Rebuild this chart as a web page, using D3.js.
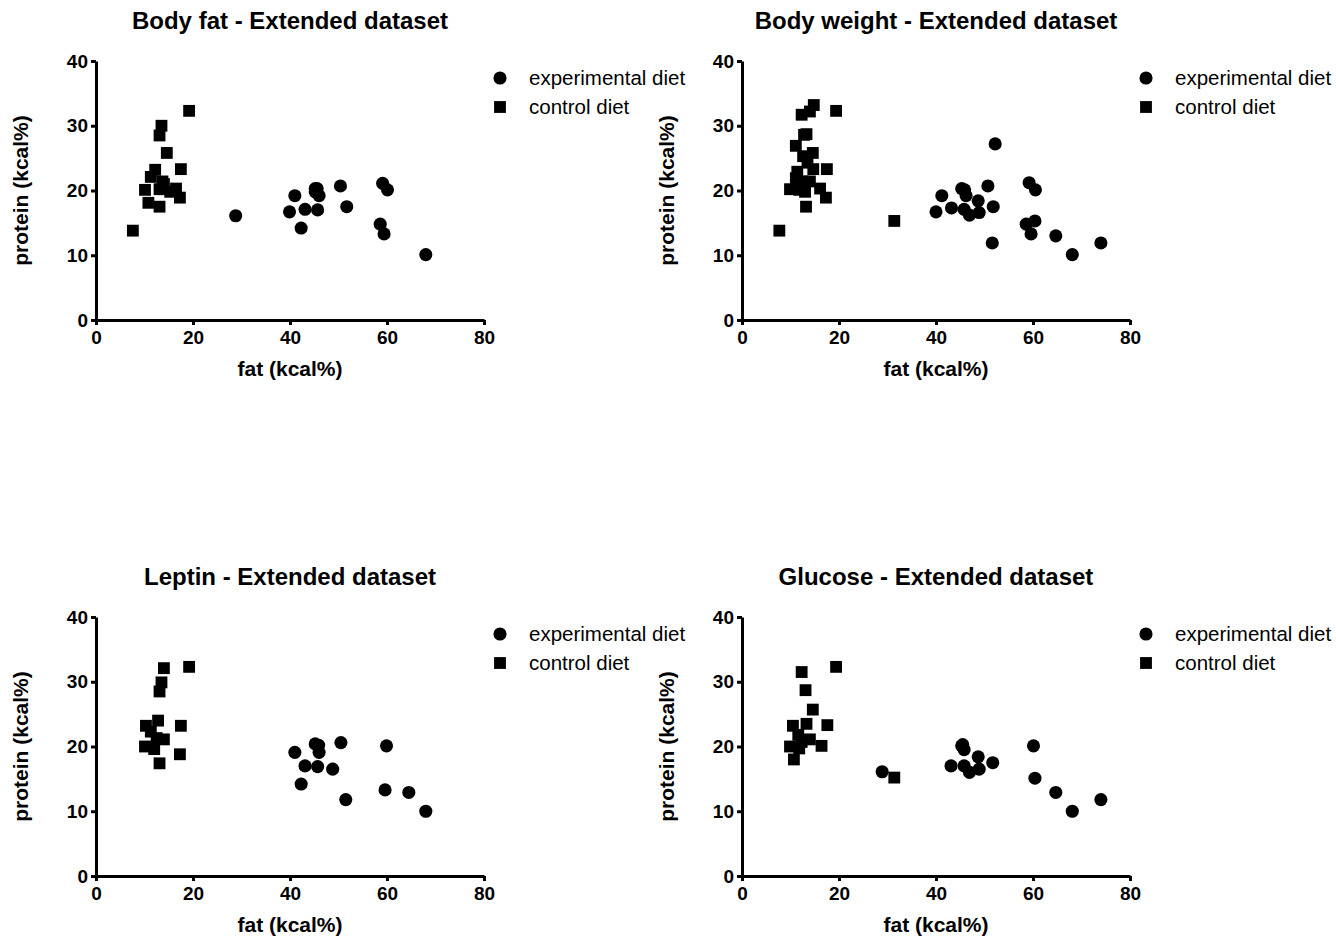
<!DOCTYPE html>
<html lang="en">
<head>
<meta charset="UTF-8">
<title>Extended dataset</title>
<script src="https://d3js.org/d3.v7.min.js"></script>
<style>
  body { margin: 0; background: #fff; }
  svg { font-family: Arial, "Liberation Sans", sans-serif; }
</style>
</head>
<body>
<div id="chart"></div>
<script>
// Panel titles
var titles = ["Body fat - Extended dataset", "Body weight - Extended dataset",
              "Leptin - Extended dataset", "Glucose - Extended dataset"];

// Axis ticks
var xTicks = [0, 20, 40, 60, 80];
var yTicks = [0, 10, 20, 30, 40];

// Series names
var seriesNames = ["experimental diet", "control diet"];

// [fat, protein] points
var bodyFatExp = [[28.8,16.1],[39.9,16.7],[41.0,19.2],[43.1,17.1],[42.3,14.2],[45.2,20.3],[45.6,20.3],
  [45.2,19.8],[46.0,19.2],[45.7,17.0],[50.4,20.7],[51.7,17.5],[59.1,21.1],[60.1,20.1],[58.6,14.8],
  [59.4,13.3],[68.0,10.1]];
var bodyFatCtrl = [[7.6,13.8],[19.2,32.3],[13.5,30.0],[13.1,28.5],[14.6,25.8],[17.5,23.3],[12.2,23.2],
  [11.3,22.1],[13.7,21.4],[10.1,20.1],[13.1,20.2],[15.3,19.8],[16.5,20.3],[17.3,18.9],[10.8,18.1],
  [13.1,17.5],[14.0,21.0]];

var bodyWeightExp = [[52.2,27.2],[40.0,16.7],[41.2,19.2],[43.2,17.3],[45.3,20.3],[45.9,20.1],[46.2,19.2],
  [45.8,17.1],[46.9,16.2],[48.7,18.4],[48.9,16.6],[50.7,20.7],[51.8,17.5],[51.6,11.9],[59.2,21.2],
  [60.5,20.1],[58.6,14.8],[60.4,15.3],[59.6,13.3],[64.7,13.0],[68.1,10.1],[74.0,11.9]];
var bodyWeightCtrl = [[19.4,32.3],[14.8,33.2],[14.0,32.2],[12.3,31.7],[13.3,28.7],[12.8,28.6],[11.1,26.9],
  [14.6,25.8],[12.6,25.3],[13.5,24.3],[11.4,22.9],[14.7,23.3],[17.5,23.3],[11.1,21.9],[12.6,21.4],
  [14.0,21.4],[9.9,20.2],[11.8,20.1],[16.1,20.3],[13.0,19.8],[17.3,18.9],[13.2,17.5],[7.7,13.8],
  [31.4,15.3]];

var leptinExp = [[41.0,19.1],[45.2,20.4],[45.9,20.2],[46.0,19.1],[50.5,20.6],[43.1,17.0],[45.7,16.9],
  [48.8,16.5],[42.3,14.2],[51.5,11.8],[59.9,20.1],[59.6,13.3],[64.5,12.9],[68.0,10.0]];
var leptinCtrl = [[19.2,32.3],[14.0,32.1],[13.5,29.9],[13.1,28.5],[12.8,24.0],[17.5,23.2],[10.3,23.2],
  [11.3,22.3],[14.0,21.1],[12.5,21.3],[10.1,20.0],[12.0,19.6],[17.3,18.8],[13.1,17.4]];

var glucoseExp = [[28.9,16.1],[43.1,17.0],[45.3,20.1],[45.5,20.3],[45.8,19.5],[45.8,17.0],[46.9,16.0],
  [48.7,18.4],[48.9,16.5],[51.7,17.5],[60.1,20.1],[60.4,15.1],[64.7,12.9],[68.1,10.0],[74.0,11.8]];
var glucoseCtrl = [[19.4,32.3],[12.3,31.5],[13.1,28.7],[14.6,25.7],[17.6,23.3],[10.5,23.2],[13.3,23.5],
  [11.6,21.8],[14.0,21.1],[12.3,20.7],[9.9,20.0],[11.8,19.7],[16.4,20.1],[10.7,18.0],[31.4,15.2]];

var panels = [
  { title: titles[0], exp: bodyFatExp, ctrl: bodyFatCtrl, dx: 0, dy: 0 },
  { title: titles[1], exp: bodyWeightExp, ctrl: bodyWeightCtrl, dx: 646, dy: 0 },
  { title: titles[2], exp: leptinExp, ctrl: leptinCtrl, dx: 0, dy: 556 },
  { title: titles[3], exp: glucoseExp, ctrl: glucoseCtrl, dx: 646, dy: 556 }
];

var svg = d3.select("#chart").append("svg")
  .attr("width", 1336)
  .attr("height", 940);

// Plot area inside each panel
var plotLeft = 96, plotRight = 484, plotTop = 61, plotBottom = 320;

var x = d3.scaleLinear().domain([0, 80]).range([plotLeft, plotRight]);
var y = d3.scaleLinear().domain([0, 40]).range([plotBottom, plotTop]);

var circle = d3.symbol().type(d3.symbolCircle).size(135);
var square = d3.symbol().type(d3.symbolSquare).size(140);

panels.forEach(function(p) {
  var g = svg.append("g")
    .attr("transform", "translate(" + p.dx + "," + p.dy + ")");

  // Title
  g.append("text")
    .attr("x", (plotLeft + plotRight) / 2)
    .attr("y", 29)
    .attr("text-anchor", "middle")
    .style("font-size", "24px")
    .style("font-weight", "bold")
    .text(p.title);

  // Y axis
  var yAxis = g.append("g")
    .attr("transform", "translate(" + plotLeft + ",0)")
    .call(d3.axisLeft(y).tickValues(yTicks).tickSize(5).tickPadding(3).tickSizeOuter(0));

  // X axis
  var xAxis = g.append("g")
    .attr("transform", "translate(0," + plotBottom + ")")
    .call(d3.axisBottom(x).tickValues(xTicks).tickSize(5).tickPadding(6).tickSizeOuter(0));

  [xAxis, yAxis].forEach(function(a) {
    a.select(".domain").attr("stroke", "#000").attr("stroke-width", 3);
    a.selectAll(".tick line").attr("stroke", "#000").attr("stroke-width", 3);
    a.selectAll(".tick text")
      .attr("fill", "#000")
      .style("font-size", "19px")
      .style("font-weight", "bold")
      .style("font-family", "Arial, 'Liberation Sans', sans-serif");
  });

  // Axis titles
  g.append("text")
    .attr("x", (plotLeft + plotRight) / 2)
    .attr("y", 376)
    .attr("text-anchor", "middle")
    .style("font-size", "21px")
    .style("font-weight", "bold")
    .text("fat (kcal%)");

  g.append("text")
    .attr("transform", "translate(28," + ((plotTop + plotBottom) / 2) + ")rotate(-90)")
    .attr("text-anchor", "middle")
    .style("font-size", "21px")
    .style("font-weight", "bold")
    .text("protein (kcal%)");

  // Points
  g.selectAll(".ctrl")
    .data(p.ctrl)
    .enter().append("path")
    .attr("class", "ctrl")
    .attr("d", square)
    .attr("transform", function(d) { return "translate(" + x(d[0]) + "," + y(d[1]) + ")"; })
    .attr("fill", "#000");

  g.selectAll(".exp")
    .data(p.exp)
    .enter().append("path")
    .attr("class", "exp")
    .attr("d", circle)
    .attr("transform", function(d) { return "translate(" + x(d[0]) + "," + y(d[1]) + ")"; })
    .attr("fill", "#000");

  // Legend
  var legend = g.selectAll(".legend")
    .data(seriesNames)
    .enter().append("g")
    .attr("class", "legend")
    .attr("transform", function(d, i) { return "translate(500," + (78 + i * 29) + ")"; });

  legend.append("path")
    .attr("d", function(d, i) { return i === 0 ? circle() : square(); })
    .attr("fill", "#000");

  legend.append("text")
    .attr("x", 29)
    .attr("y", 7)
    .style("font-size", "20.5px")
    .text(function(d) { return d; });
});
</script>
</body>
</html>
